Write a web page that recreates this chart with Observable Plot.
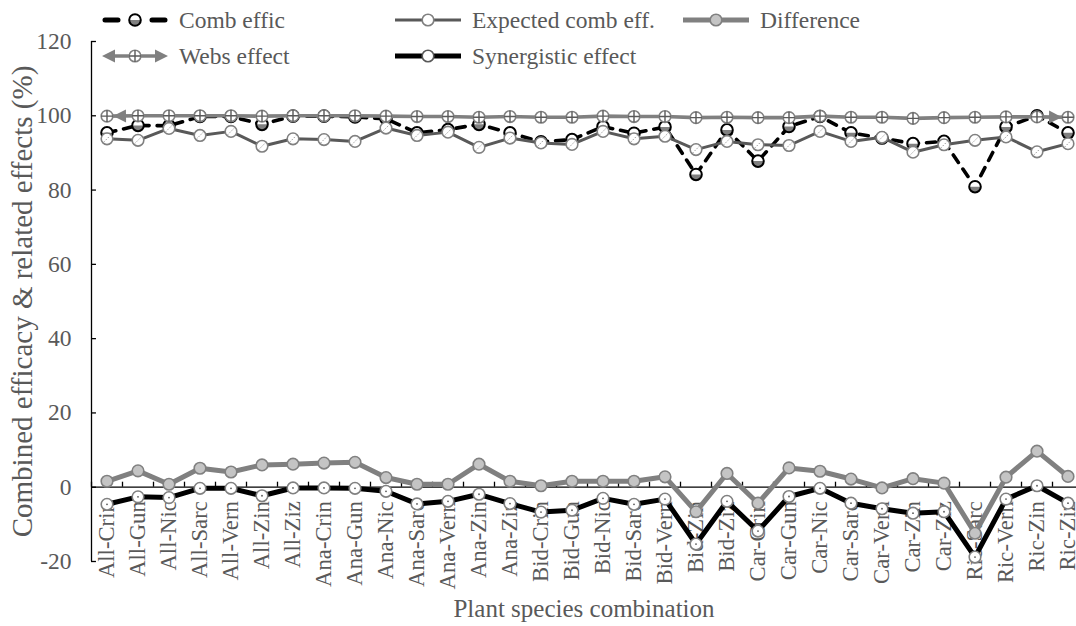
<!DOCTYPE html>
<html>
<head>
<meta charset="utf-8">
<script src="https://cdn.jsdelivr.net/npm/d3@7"></script>
<script src="https://cdn.jsdelivr.net/npm/@observablehq/plot@0.6"></script>
<style>
  html, body { margin: 0; padding: 0; background: #fff; overflow: hidden; }
  #chart { position: relative; width: 1076px; height: 626px; overflow: hidden;
           font-family: "Liberation Serif", "Times New Roman", serif; }
  #chart svg.plot { position: absolute; left: 0; top: 0; overflow: hidden; }
  #legend { position: absolute; left: 0; top: 0; width: 1076px; height: 80px; pointer-events: none; }
  .item { position: absolute; display: flex; align-items: center; height: 30px;
          font-size: 23.5px; color: #595959; white-space: nowrap; }
  .item svg { margin-right: 11px; overflow: visible; }
</style>
</head>
<body>
<div id="chart"><div id="legend"></div></div>
<script>
// Plant species combinations (x axis)
const categories = ["All-Crin","All-Gun","All-Nic","All-Sarc","All-Vern","All-Zin","All-Ziz",
  "Ana-Crin","Ana-Gun","Ana-Nic","Ana-Sarc","Ana-Vern","Ana-Zin","Ana-Ziz",
  "Bid-Crin","Bid-Gun","Bid-Nic","Bid-Sarc","Bid-Vern","Bid-Zin","Bid-Ziz",
  "Car-Crin","Car-Gun","Car-Nic","Car-Sarc","Car-Vern","Car-Zin","Car-Ziz",
  "Ric-Sarc","Ric-Vern","Ric-Zin","Ric-Ziz"];

// Series values (%)
const combEffic = [95.4, 97.4, 97.3, 99.8, 99.8, 97.7, 99.9, 99.9, 99.7, 99.2,
  95.4, 96.3, 97.7, 95.4, 93.0, 93.6, 97.1, 95.3, 97.0, 84.2,
  96.2, 87.8, 97.1, 99.8, 95.4, 94.0, 92.5, 93.1, 80.9, 97.0, 100.0, 95.4];
const expectedComb = [93.8, 93.4, 96.6, 94.7, 95.8, 91.8, 93.8, 93.6, 93.1, 96.7,
  94.7, 95.6, 91.5, 94.0, 92.7, 92.3, 95.8, 93.8, 94.5, 90.9,
  93.1, 92.2, 92.0, 95.8, 93.1, 94.2, 90.2, 92.2, 93.4, 94.3, 90.3, 92.5];
const difference = [1.6, 4.4, 0.8, 5.1, 4.1, 6.0, 6.2, 6.5, 6.7, 2.6,
  0.8, 0.8, 6.2, 1.6, 0.4, 1.6, 1.6, 1.6, 2.8, -6.6,
  3.7, -4.3, 5.2, 4.3, 2.2, -0.2, 2.3, 1.1, -12.4, 2.7, 9.7, 2.9];
const websEffect = [99.9, 100, 100, 100, 100, 99.9, 100, 100, 100, 99.9,
  99.8, 99.8, 99.6, 99.8, 99.6, 99.6, 99.9, 99.8, 99.8, 99.5,
  99.6, 99.5, 99.5, 99.9, 99.6, 99.6, 99.3, 99.5, 99.6, 99.7, 99.7, 99.6];
const synergistic = [-4.6, -2.6, -2.8, -0.3, -0.3, -2.3, -0.2, -0.2, -0.3, -1.1,
  -4.5, -3.8, -1.9, -4.4, -6.7, -6.2, -3.0, -4.6, -3.2, -15.3,
  -3.8, -11.8, -2.5, -0.3, -4.3, -5.8, -7.0, -6.6, -18.8, -3.2, 0.4, -4.3];

// Axis ticks and titles
const yTicks = [-20, 0, 20, 40, 60, 80, 100, 120];
const yTitle = "Combined efficacy & related effects (%)";
const xTitle = "Plant species combination";

const rows = categories.map((c, i) => ({
  i, c,
  comb: combEffic[i], exp: expectedComb[i], diff: difference[i],
  webs: websEffect[i], syn: synergistic[i]
}));

// Custom marker symbols
const R = 5.8;
const halfDisc = { draw(ctx, size) { const r = Math.sqrt(size / Math.PI); ctx.moveTo(r, 0); ctx.arc(0, 0, r, 0, Math.PI); ctx.closePath(); } };
const crossIn = { draw(ctx, size) { const r = Math.sqrt(size / Math.PI); ctx.moveTo(0, -r); ctx.lineTo(0, r); ctx.moveTo(-r, 0); ctx.lineTo(r, 0); } };
const slashIn = { draw(ctx, size) { const r = Math.sqrt(size / Math.PI) * 0.6; ctx.moveTo(-r, r); ctx.lineTo(r, -r); } };

// Filled arrowhead placed just inside each end of the webs-effect line
function arrowHead(color) {
  const m = d3.create("svg:marker")
    .attr("viewBox", "-22 -9 24 18")
    .attr("markerUnits", "userSpaceOnUse")
    .attr("markerWidth", 24).attr("markerHeight", 18)
    .attr("refX", 0).attr("refY", 0)
    .attr("orient", "auto-start-reverse");
  m.append("path").attr("d", "M-19,-6.5L-6,0L-19,6.5Z").attr("fill", color).attr("stroke", "none");
  return m.node();
}

const GREY = "#808080", DARK = "#595959", TEXT = "#595959";
const X = "i";
const FONT = "'Liberation Serif', 'Times New Roman', serif";

const chart = Plot.plot({
  width: 1076,
  height: 626,
  marginTop: 41,
  marginBottom: 65,
  marginLeft: 91,
  marginRight: 0,
  style: { fontFamily: FONT, background: "white", overflow: "hidden" },
  x: { type: "linear", domain: [-0.5, categories.length - 0.5], range: [91, 1083], axis: null },
  y: { domain: [-20, 120], axis: null },
  marks: [
    // axis lines and inward ticks
    Plot.ruleX([-0.5], { stroke: "black", strokeWidth: 1.3 }),
    Plot.ruleY([0], { stroke: "black", strokeWidth: 1.3 }),
    Plot.ruleY(yTicks, { y: d => d, x1: -0.5, x2: -0.34, stroke: "black", strokeWidth: 1.3 }),
    Plot.ruleX(d3.range(categories.length + 1).map(k => k - 0.5), { y1: 0, y2: 1.35, stroke: "black", strokeWidth: 1.3 }),
    Plot.axisY({ ticks: yTicks, tickSize: 0, tickPadding: 20, tickFormat: d => String(d), fontSize: 23.5, fill: TEXT, fontFamily: FONT, label: null }),

    // category labels hanging below the zero line
    Plot.text(rows, { x: X, y: () => 0, text: "c", rotate: -90, textAnchor: "end", dy: 14, fontSize: 22.7, fill: TEXT }),

    // axis titles
    Plot.text([yTitle], { frameAnchor: "left", textAnchor: "middle", lineAnchor: "middle", dx: -69, rotate: -90, fontSize: 29, fill: TEXT }),
    Plot.text([xTitle], { frameAnchor: "bottom", textAnchor: "middle", lineAnchor: "middle", dy: 47, fontSize: 25, fill: TEXT }),

    // Comb effic
    Plot.line(rows, { x: X, y: "comb", stroke: "black", strokeWidth: 3.6, strokeDasharray: "9,8", strokeLinecap: "round" }),
    Plot.dot(rows, { x: X, y: "comb", r: R, fill: "white" }),
    Plot.dot(rows, { x: X, y: "comb", r: R, symbol: halfDisc, fill: GREY }),
    Plot.dot(rows, { x: X, y: "comb", r: R, fill: "none", stroke: "black", strokeWidth: 2 }),

    // Expected comb eff.
    Plot.line(rows, { x: X, y: "exp", stroke: DARK, strokeWidth: 3 }),
    Plot.dot(rows, { x: X, y: "exp", r: R, fill: "white", stroke: GREY, strokeWidth: 1.6 }),
    Plot.dot(rows, { x: X, y: "exp", r: R, symbol: slashIn, fill: "none", stroke: "#9a9a9a", strokeWidth: 1, strokeDasharray: "1.5,1.5" }),

    // Difference
    Plot.line(rows, { x: X, y: "diff", stroke: GREY, strokeWidth: 5 }),
    Plot.dot(rows, { x: X, y: "diff", r: R, fill: "#c4c4c4", stroke: GREY, strokeWidth: 1.6 }),

    // Webs effect
    Plot.line(rows, { x: X, y: "webs", stroke: GREY, strokeWidth: 3.6, markerStart: arrowHead, markerEnd: arrowHead }),
    Plot.dot(rows, { x: X, y: "webs", r: R, fill: "white", stroke: GREY, strokeWidth: 1.6 }),
    Plot.dot(rows, { x: X, y: "webs", r: R, symbol: crossIn, fill: "none", stroke: DARK, strokeWidth: 1.4 }),

    // Synergistic effect
    Plot.line(rows, { x: X, y: "syn", stroke: "black", strokeWidth: 5 }),
    Plot.dot(rows, { x: X, y: "syn", r: R, fill: "white", stroke: GREY, strokeWidth: 1.6 }),
    Plot.dot(rows, { x: X, y: "syn", r: 0.9, fill: DARK })
  ]
});
chart.classList.add("plot");
document.getElementById("chart").prepend(chart);

// Legend: two rows, three columns
const legendCols = [102, 395, 683];
const legendRows = [20, 56];
const legendItems = [
  { name: "Comb effic", key: "comb", col: 0, row: 0 },
  { name: "Expected comb eff.", key: "exp", col: 1, row: 0 },
  { name: "Difference", key: "diff", col: 2, row: 0 },
  { name: "Webs effect", key: "webs", col: 0, row: 1 },
  { name: "Synergistic effect", key: "syn", col: 1, row: 1 }
];
const legend = d3.select("#legend");
for (const it of legendItems) {
  const div = legend.append("div").attr("class", "item")
    .style("left", legendCols[it.col] + "px")
    .style("top", (legendRows[it.row] - 15) + "px");
  const s = div.append("svg").attr("width", 66).attr("height", 20);
  const g = s.append("g").attr("transform", "translate(0,10)");
  const cx = 33;
  if (it.key === "comb") {
    g.append("path").attr("d", "M3,0H16M50,0H63").attr("stroke", "black").attr("stroke-width", 5).attr("stroke-linecap", "round");
    g.append("circle").attr("cx", cx).attr("r", R).attr("fill", "white");
    g.append("path").attr("d", d3.symbol(halfDisc, Math.PI * R * R)()).attr("transform", `translate(${cx},0)`).attr("fill", GREY);
    g.append("circle").attr("cx", cx).attr("r", R).attr("fill", "none").attr("stroke", "black").attr("stroke-width", 2);
  } else if (it.key === "exp") {
    g.append("path").attr("d", "M0,0H66").attr("stroke", DARK).attr("stroke-width", 3);
    g.append("circle").attr("cx", cx).attr("r", R).attr("fill", "white").attr("stroke", GREY).attr("stroke-width", 1.6);
  } else if (it.key === "diff") {
    g.append("path").attr("d", "M0,0H66").attr("stroke", GREY).attr("stroke-width", 5);
    g.append("circle").attr("cx", cx).attr("r", R).attr("fill", "#c4c4c4").attr("stroke", GREY).attr("stroke-width", 1.6);
  } else if (it.key === "webs") {
    g.append("path").attr("d", "M8,0H58").attr("stroke", GREY).attr("stroke-width", 3.6);
    g.append("path").attr("d", "M0,0L13,-6.5L13,6.5ZM66,0L53,-6.5L53,6.5Z").attr("fill", GREY);
    g.append("circle").attr("cx", cx).attr("r", R).attr("fill", "white").attr("stroke", GREY).attr("stroke-width", 1.6);
    g.append("path").attr("d", `M${cx},${-R}V${R}M${cx - R},0H${cx + R}`).attr("stroke", DARK).attr("stroke-width", 1.4);
  } else {
    g.append("path").attr("d", "M0,0H66").attr("stroke", "black").attr("stroke-width", 5);
    g.append("circle").attr("cx", cx).attr("r", R).attr("fill", "white").attr("stroke", DARK).attr("stroke-width", 1.6);
  }
  div.append("span").text(it.name);
}
</script>
</body>
</html>
